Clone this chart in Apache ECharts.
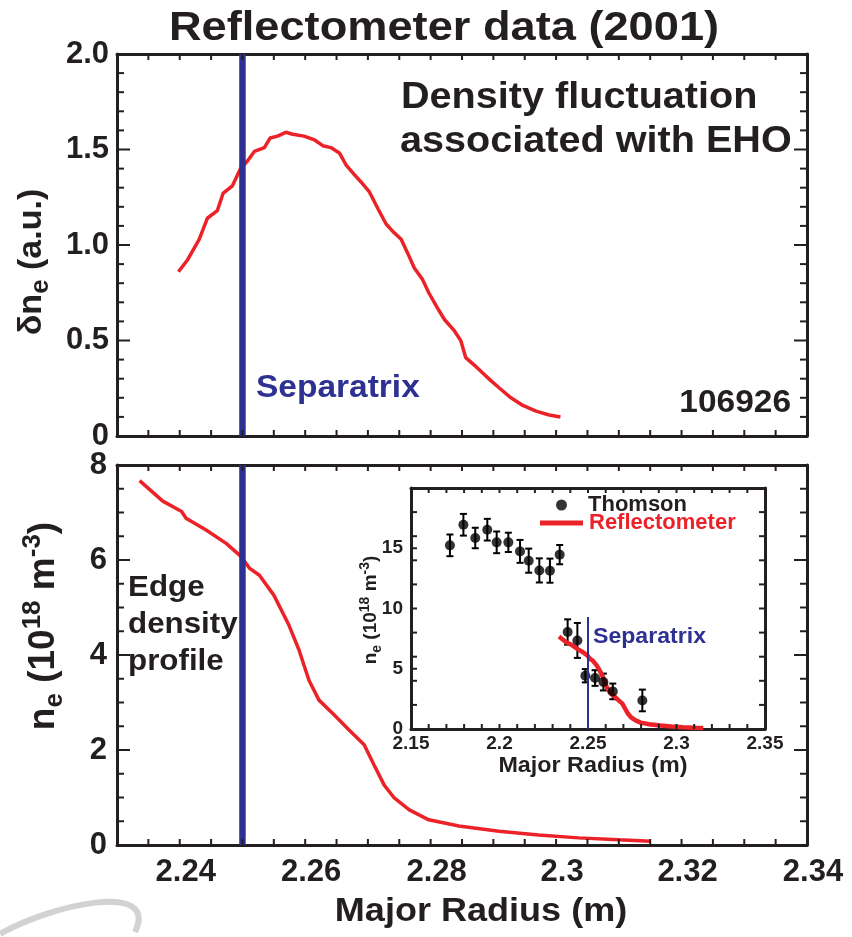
<!DOCTYPE html>
<html>
<head>
<meta charset="utf-8">
<script src="https://cdn.jsdelivr.net/npm/echarts@6/dist/echarts.min.js"></script>
<style>
  html, body { margin: 0; padding: 0; background: #fff; }
  #chart { width: 852px; height: 937px; }
</style>
</head>
<body>
<div id="chart"></div>
<script>
// Density fluctuation amplitude (EHO) versus major radius, shot 106926
const flucR = [2.2398, 2.2412, 2.2431, 2.2444, 2.2460, 2.2469, 2.2484, 2.2497, 2.2508, 2.2519,
  2.2535, 2.2544, 2.2556, 2.2569, 2.2580, 2.2598, 2.2615, 2.2628, 2.2641, 2.2655,
  2.2665, 2.2678, 2.2689, 2.2702, 2.2716, 2.2729, 2.2740, 2.2753, 2.2763, 2.2774,
  2.2787, 2.2797, 2.2811, 2.2822, 2.2838, 2.2848, 2.2856, 2.2870, 2.2883, 2.2896,
  2.2910, 2.2928, 2.2947, 2.2968, 2.2989, 2.3007];
const flucAmp = [0.86, 0.92, 1.03, 1.14, 1.18, 1.27, 1.31, 1.40, 1.44, 1.49,
  1.51, 1.56, 1.57, 1.59, 1.58, 1.57, 1.55, 1.52, 1.51, 1.48,
  1.42, 1.37, 1.33, 1.28, 1.19, 1.11, 1.07, 1.03, 0.96, 0.88,
  0.82, 0.75, 0.67, 0.61, 0.55, 0.50, 0.41, 0.37, 0.33, 0.29,
  0.25, 0.20, 0.16, 0.13, 0.11, 0.10];

// Reflectometer edge density profile (10^18 m^-3)
const profR = [2.2336, 2.2373, 2.2403, 2.2410, 2.2442, 2.2474, 2.2498, 2.2511, 2.2527, 2.2550,
  2.2574, 2.2590, 2.2606, 2.2622, 2.2646, 2.2670, 2.2694, 2.2710, 2.2726, 2.2742,
  2.2766, 2.2797, 2.2845, 2.2909, 2.2972, 2.3036, 2.3100, 2.3151];
const profNe = [7.67, 7.24, 7.02, 6.88, 6.63, 6.35, 6.07, 5.83, 5.68, 5.26,
  4.63, 4.11, 3.47, 3.05, 2.74, 2.42, 2.11, 1.68, 1.26, 0.99,
  0.74, 0.53, 0.40, 0.29, 0.21, 0.15, 0.11, 0.08];

// Thomson scattering density with error bars (10^18 m^-3)
const thomsonR = [2.1720, 2.1796, 2.1863, 2.1931, 2.1984, 2.2050, 2.2116, 2.2165, 2.2225,
  2.2285, 2.2340, 2.2385, 2.2440, 2.2485, 2.2540, 2.2587, 2.2640, 2.2807];
const thomsonNe = [15.24, 16.95, 15.85, 16.54, 15.49, 15.49, 14.74, 13.97, 13.16,
  13.14, 14.47, 8.05, 7.35, 4.42, 4.23, 3.90, 3.12, 2.37];
const thomsonErr = [0.90, 0.90, 0.85, 0.90, 0.90, 0.80, 0.95, 1.00, 1.00,
  1.00, 0.80, 1.05, 1.45, 0.55, 0.65, 0.70, 0.65, 0.90];

// Separatrix location and extent of its marker in the inset
const separatrixR = 2.25;
const insetSeparatrixTop = 9.3;

// Tick labels
const mainXTicks = [2.24, 2.26, 2.28, 2.3, 2.32, 2.34];
const flucYTicks = [0, 0.5, 1.0, 1.5, 2.0];
const flucYLabels = ['0', '0.5', '1.0', '1.5', '2.0'];
const profYTicks = [0, 2, 4, 6, 8];
const insetXTicks = [2.15, 2.2, 2.25, 2.3, 2.35];
const insetYTicks = [0, 5, 10, 15];

const INK = '#231f20';
const RED = '#ec2229';
const BLUE = '#2e3192';
const FONT = '"Liberation Sans", Arial, Helvetica, sans-serif';

function pick(ticks, labels) {
  return function (v) {
    const i = ticks.findIndex(t => Math.abs(t - v) < 1e-6);
    return i < 0 ? '' : (labels ? labels[i] : String(ticks[i]));
  };
}

const zip = (a, b) => a.map((v, i) => [v, b[i]]);

// Evenly stepped values between lo and hi (inclusive)
function steps(lo, hi, step) {
  const out = [];
  for (let k = 0; ; k++) {
    const v = +(lo + k * step).toFixed(6);
    if (v > hi + 1e-9) break;
    out.push(v);
  }
  return out;
}

// Inward tick marks on all four sides of a plot frame, placed through the axes' scales
function frameTicks(cfg) {
  const xs = steps(cfg.x[0], cfg.x[1], cfg.xStep);
  const ys = steps(cfg.y[0], cfg.y[1], cfg.yStep);
  return {
    name: 'frame-ticks', type: 'custom', xAxisIndex: cfg.xi, yAxisIndex: cfg.yi,
    data: [[cfg.x[0], cfg.y[0]]], z: cfg.z || 5, silent: true, clip: false,
    renderItem: function (params, api) {
      const st = { stroke: INK, lineWidth: 2 };
      const kids = [];
      xs.forEach(v => {
        const b = api.coord([v, cfg.y[0]]);
        const t = api.coord([v, cfg.y[1]]);
        kids.push({ type: 'line', shape: { x1: b[0], y1: b[1], x2: b[0], y2: b[1] - cfg.xLen }, style: st });
        kids.push({ type: 'line', shape: { x1: t[0], y1: t[1], x2: t[0], y2: t[1] + cfg.xLen }, style: st });
      });
      const yTick = (v, len, both) => {
        const l = api.coord([cfg.x[0], v]);
        const r = api.coord([cfg.x[1], v]);
        kids.push({ type: 'line', shape: { x1: l[0], y1: l[1], x2: l[0] + len, y2: l[1] }, style: st });
        if (both) kids.push({ type: 'line', shape: { x1: r[0], y1: r[1], x2: r[0] - len, y2: r[1] }, style: st });
      };
      ys.forEach(v => {
        const major = cfg.yMajor && Math.abs(v / cfg.yMajor - Math.round(v / cfg.yMajor)) < 1e-6;
        yTick(v, major ? cfg.yMajorLen : cfg.yLen, true);
      });
      (cfg.yExtraLeft || []).forEach(v => yTick(v, cfg.yLen, false));
      return { type: 'group', children: kids };
    }
  };
}

const frameLine = { show: true, onZero: false, lineStyle: { color: INK, width: 3 } };

function axis(grid, pos, min, max, interval, label, z) {
  const a = {
    type: 'value', gridIndex: grid, position: pos, min: min, max: max, interval: interval,
    axisLine: frameLine, splitLine: { show: false },
    axisTick: { show: false }, minorTick: { show: false }, minorSplitLine: { show: false },
    axisLabel: label || { show: false }
  };
  if (z) a.z = z;
  return a;
}

const mainLabel = (ticks, labels, extra) => Object.assign({
  show: true, interval: 0, color: INK, fontFamily: FONT, fontWeight: 'bold', fontSize: 31,
  formatter: pick(ticks, labels)
}, extra || {});
const insetLabel = (ticks, extra) => Object.assign({
  show: true, interval: 0, color: INK, fontFamily: FONT, fontWeight: 'bold', fontSize: 19,
  formatter: pick(ticks)
}, extra || {});

const option = {
  backgroundColor: '#fff',
  animation: false,
  grid: [
    { left: 117, top: 54, width: 690, height: 382 },
    { left: 117, top: 465, width: 690, height: 380 },
    { left: 411, top: 488, width: 354, height: 241, show: true, backgroundColor: '#fff', borderWidth: 0, z: 5 }
  ],
  xAxis: [
    axis(0, 'bottom', 2.23, 2.34, 0.005),
    axis(0, 'top', 2.23, 2.34, 0.005),
    axis(1, 'bottom', 2.23, 2.34, 0.005, mainLabel(mainXTicks, null, { margin: 12, padding: [0, 0, 0, 12] })),
    axis(1, 'top', 2.23, 2.34, 0.005),
    axis(2, 'bottom', 2.15, 2.35, 0.01, insetLabel(insetXTicks, { margin: 5 }), 6),
    axis(2, 'top', 2.15, 2.35, 0.01, null, 6)
  ],
  yAxis: [
    axis(0, 'left', 0, 2.0, 0.5, mainLabel(flucYTicks, flucYLabels, { margin: 8 })),
    axis(0, 'right', 0, 2.0, 0.5),
    axis(1, 'left', 0, 8, 2, mainLabel(profYTicks, null, { margin: 10 })),
    axis(1, 'right', 0, 8, 2),
    axis(2, 'left', 0, 20, 5, insetLabel(insetYTicks, { margin: 8 }), 6),
    axis(2, 'right', 0, 20, 5, null, 6)
  ],
  legend: [
    {
      data: [{ name: 'Thomson', icon: 'circle' }],
      left: 551, top: 489, itemWidth: 11, itemHeight: 11, z: 8,
      textStyle: { color: INK, fontFamily: FONT, fontWeight: 'bold', fontSize: 22, padding: [0, 0, 0, 16] }
    },
    {
      data: [{ name: 'Reflectometer', icon: 'rect' }],
      left: 535, top: 507, itemWidth: 43, itemHeight: 5, z: 8,
      textStyle: { color: RED, fontFamily: FONT, fontWeight: 'bold', fontSize: 22, padding: [0, 0, 0, 1] }
    }
  ],
  series: [
    {
      name: 'δne', type: 'line', xAxisIndex: 0, yAxisIndex: 0, data: zip(flucR, flucAmp),
      symbol: 'none', lineStyle: { color: RED, width: 3.5 }, z: 3
    },
    {
      name: 'sep-top', type: 'line', xAxisIndex: 0, yAxisIndex: 0,
      data: [[separatrixR, 0], [separatrixR, 2.0]], symbol: 'none',
      lineStyle: { color: BLUE, width: 6.5 }, z: 4
    },
    {
      name: 'ne', type: 'line', xAxisIndex: 2, yAxisIndex: 2, data: zip(profR, profNe),
      symbol: 'none', lineStyle: { color: RED, width: 3.5 }, z: 3
    },
    {
      name: 'sep-bottom', type: 'line', xAxisIndex: 2, yAxisIndex: 2,
      data: [[separatrixR, 0], [separatrixR, 8]], symbol: 'none',
      lineStyle: { color: BLUE, width: 6.5 }, z: 4
    },
    {
      name: 'Reflectometer', type: 'line', xAxisIndex: 4, yAxisIndex: 4, data: zip(profR, profNe),
      symbol: 'none', itemStyle: { color: RED }, lineStyle: { color: RED, width: 4.5 }, z: 7
    },
    {
      name: 'thomson-err', type: 'custom', xAxisIndex: 4, yAxisIndex: 4,
      data: thomsonR.map((r, i) => [r, thomsonNe[i] - thomsonErr[i], thomsonNe[i] + thomsonErr[i]]),
      renderItem: function (params, api) {
        const lo = api.coord([api.value(0), api.value(1)]);
        const hi = api.coord([api.value(0), api.value(2)]);
        const c = 3.5;
        const st = { stroke: '#000', lineWidth: 2 };
        return {
          type: 'group', children: [
            { type: 'line', shape: { x1: lo[0], y1: lo[1], x2: hi[0], y2: hi[1] }, style: st },
            { type: 'line', shape: { x1: lo[0] - c, y1: lo[1], x2: lo[0] + c, y2: lo[1] }, style: st },
            { type: 'line', shape: { x1: hi[0] - c, y1: hi[1], x2: hi[0] + c, y2: hi[1] }, style: st }
          ]
        };
      },
      z: 7
    },
    {
      name: 'Thomson', type: 'scatter', xAxisIndex: 4, yAxisIndex: 4, data: zip(thomsonR, thomsonNe),
      symbol: 'circle', symbolSize: 10, itemStyle: { color: '#000' }, z: 8
    },
    {
      name: 'sep-inset', type: 'line', xAxisIndex: 4, yAxisIndex: 4,
      data: [[separatrixR, 0], [separatrixR, insetSeparatrixTop]], symbol: 'none',
      lineStyle: { color: BLUE, width: 2 }, z: 9
    },
    frameTicks({ xi: 0, yi: 0, x: [2.23, 2.34], xStep: 0.005, xLen: 6,
      y: [0, 2.0], yStep: 0.1, yLen: 7, yMajor: 0.5, yMajorLen: 13 }),
    frameTicks({ xi: 2, yi: 2, x: [2.23, 2.34], xStep: 0.005, xLen: 6,
      y: [0, 8], yStep: 0.5, yLen: 7, yMajor: 2, yMajorLen: 13 }),
    frameTicks({ xi: 4, yi: 4, x: [2.15, 2.35], xStep: 0.01, xLen: 5,
      y: [0, 20], yStep: 2, yLen: 6, yExtraLeft: [5, 15], z: 9 })
  ],
  graphic: [
    {
      type: 'text', x: 444, y: 29, scaleX: 1.13, z: 10,
      style: { text: 'Reflectometer data (2001)', x: 0, y: 0, align: 'center', verticalAlign: 'middle',
        fill: INK, font: 'bold 40px ' + FONT }
    },
    {
      type: 'text', x: 401, y: 98, scaleX: 1.1, z: 10,
      style: { text: 'Density fluctuation', x: 0, y: 0, align: 'left', verticalAlign: 'middle',
        fill: INK, font: 'bold 36px ' + FONT }
    },
    {
      type: 'text', x: 400, y: 142, scaleX: 1.1, z: 10,
      style: { text: 'associated with EHO', x: 0, y: 0, align: 'left', verticalAlign: 'middle',
        fill: INK, font: 'bold 36px ' + FONT }
    },
    {
      type: 'text', x: 256, y: 388, scaleX: 1.08, z: 10,
      style: { text: 'Separatrix', x: 0, y: 0, align: 'left', verticalAlign: 'middle',
        fill: BLUE, font: 'bold 31px ' + FONT }
    },
    {
      type: 'text', x: 791, y: 403, scaleX: 1.08, z: 10,
      style: { text: '106926', x: 0, y: 0, align: 'right', verticalAlign: 'middle',
        fill: INK, font: 'bold 31px ' + FONT }
    },
    {
      type: 'text', x: 128, y: 625, scaleX: 1.08, z: 10,
      style: { text: 'Edge\ndensity\nprofile', x: 0, y: 0, align: 'left', verticalAlign: 'middle',
        fill: INK, font: 'bold 29px ' + FONT, lineHeight: 37 }
    },
    {
      type: 'text', x: 593, y: 637, scaleX: 1.05, z: 10,
      style: { text: 'Separatrix', x: 0, y: 0, align: 'left', verticalAlign: 'middle',
        fill: BLUE, font: 'bold 22px ' + FONT }
    },
    {
      type: 'text', x: 481, y: 912, scaleX: 1.06, z: 10,
      style: { text: 'Major Radius (m)', x: 0, y: 0, align: 'center', verticalAlign: 'middle',
        fill: INK, font: 'bold 34px ' + FONT }
    },
    {
      type: 'text', x: 593, y: 766, scaleX: 1.06, z: 10,
      style: { text: 'Major Radius (m)', x: 0, y: 0, align: 'center', verticalAlign: 'middle',
        fill: INK, font: 'bold 22px ' + FONT }
    },
    {
      type: 'text', x: 32, y: 262, rotation: Math.PI / 2, z: 10,
      style: {
        text: '{b|δn}{s|e}{b| (a.u.)}', x: 0, y: 0, align: 'center', verticalAlign: 'middle',
        rich: {
          b: { fill: INK, fontFamily: FONT, fontWeight: 'bold', fontSize: 34, lineHeight: 44, verticalAlign: 'middle' },
          s: { fill: INK, fontFamily: FONT, fontWeight: 'bold', fontSize: 26, lineHeight: 26, verticalAlign: 'bottom' }
        }
      }
    },
    {
      type: 'text', x: 44, y: 626, rotation: Math.PI / 2, z: 10,
      style: {
        text: '{b|n}{s|e}{b| (10}{p|18}{b| m}{p|-3}{b|)}', x: 0, y: 0, align: 'center', verticalAlign: 'middle',
        rich: {
          b: { fill: INK, fontFamily: FONT, fontWeight: 'bold', fontSize: 37, lineHeight: 48, verticalAlign: 'middle' },
          s: { fill: INK, fontFamily: FONT, fontWeight: 'bold', fontSize: 26, lineHeight: 26, verticalAlign: 'bottom' },
          p: { fill: INK, fontFamily: FONT, fontWeight: 'bold', fontSize: 26, lineHeight: 26, verticalAlign: 'top' }
        }
      }
    },
    {
      type: 'text', x: 371, y: 610, rotation: Math.PI / 2, z: 10,
      style: {
        text: '{b|n}{s|e}{b| (10}{p|18}{b| m}{p|-3}{b|)}', x: 0, y: 0, align: 'center', verticalAlign: 'middle',
        rich: {
          b: { fill: INK, fontFamily: FONT, fontWeight: 'bold', fontSize: 19, lineHeight: 26, verticalAlign: 'middle' },
          s: { fill: INK, fontFamily: FONT, fontWeight: 'bold', fontSize: 14, lineHeight: 14, verticalAlign: 'bottom' },
          p: { fill: INK, fontFamily: FONT, fontWeight: 'bold', fontSize: 14, lineHeight: 14, verticalAlign: 'top' }
        }
      }
    },
    {
      type: 'bezierCurve', z: 1, silent: true,
      shape: { x1: 0, y1: 934, cpx1: 50, cpy1: 905, cpx2: 160, cpy2: 880, x2: 135, y2: 932 },
      style: { fill: 'none', stroke: '#d2d2d2', lineWidth: 6 }
    }
  ]
};

const chart = echarts.init(document.getElementById('chart'), null, { renderer: 'canvas' });
chart.setOption(option);
</script>
</body>
</html>
